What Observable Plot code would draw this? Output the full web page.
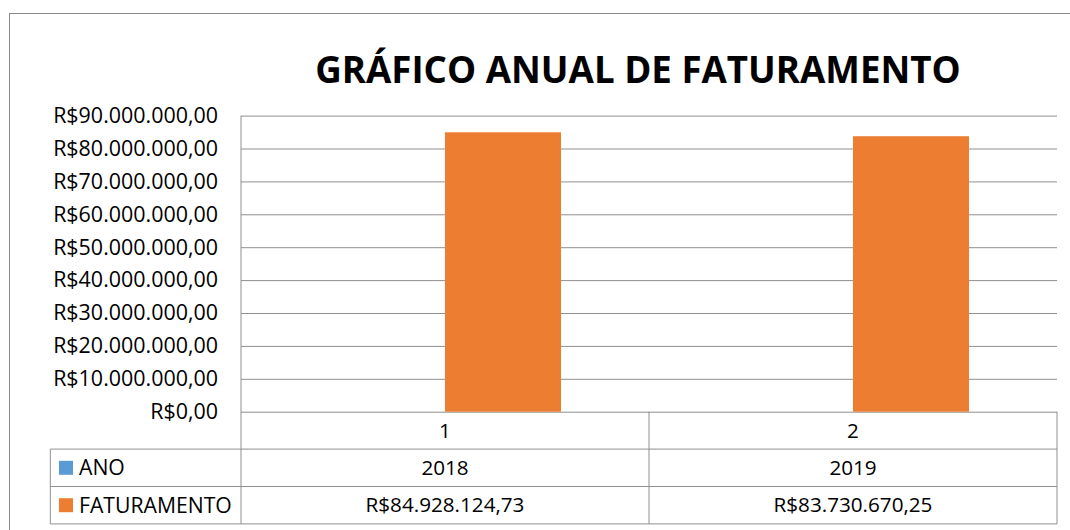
<!DOCTYPE html>
<html><head><meta charset="utf-8">
<script src="https://cdn.jsdelivr.net/npm/d3@7"></script>
<script src="https://cdn.jsdelivr.net/npm/@observablehq/plot@0.6"></script>
<style>
html,body{margin:0;padding:0;background:#fff;}
body{width:1070px;height:530px;overflow:hidden;position:relative;font-family:"Open Sans",sans-serif;}
#frame{position:absolute;left:9px;top:13px;width:1200px;height:700px;border-left:1px solid #8a8a8a;border-top:1px solid #8a8a8a;box-sizing:border-box;}
#chart{position:absolute;left:0;top:0;}
#title{position:absolute;left:238px;width:800px;top:46px;text-align:center;font-family:"Open Sans",sans-serif;font-weight:700;font-size:36.7px;line-height:46px;color:#000;white-space:nowrap;}
</style>
</head><body>
<div id="frame"></div>
<div id="chart"></div>
<div id="title">GRÁFICO ANUAL DE FATURAMENTO</div>
<script>
// ---- data ----
const categories = ["1", "2"];
const years = [2018, 2019];
const revenue = [84928124.73, 83730670.25];
const seriesNames = ["ANO", "FATURAMENTO"];
const seriesColors = ["#5B9BD5", "#ED7D31"];
const yTicks = [0, 10e6, 20e6, 30e6, 40e6, 50e6, 60e6, 70e6, 80e6, 90e6];

const brl = d3.formatLocale({decimal: ",", thousands: ".", grouping: [3], currency: ["R$", ""]}).format("$,.2f");

const bars = [];
categories.forEach((c, i) => {
  bars.push({cat: c, series: "ANO", value: years[i]});
  bars.push({cat: c, series: "FATURAMENTO", value: revenue[i]});
});

const W = 1070, H = 530;
const plot = Plot.plot({
  width: W, height: H,
  marginLeft: 241, marginRight: 12.5, marginTop: 115.6, marginBottom: 118.3,
  fx: {domain: categories, padding: 0, axis: null, label: null},
  x: {domain: seriesNames, paddingInner: 0, paddingOuter: 0.753, axis: null},
  y: {domain: [0, 90e6], label: null},
  color: {domain: seriesNames, range: seriesColors},
  style: {fontFamily: "'Open Sans', sans-serif", color: "#000", background: "transparent", overflow: "visible"},
  marks: [
    Plot.gridY(yTicks, {stroke: "#8f8f8f", strokeOpacity: 1, strokeWidth: 1}),
    Plot.barY(bars, {fx: "cat", x: "series", y: "value", fill: "series"}),
    Plot.axisY(yTicks, {anchor: "left", tickSize: 0, tickPadding: 23.5, tickFormat: brl, fontSize: 19.3, fill: "#000", label: null})
  ]
});
document.getElementById("chart").appendChild(plot);

// fit a group of text nodes so that the widest one spans the given width
function fitTexts(nodes, target, base) {
  const arr = nodes.nodes ? nodes.nodes() : nodes;
  arr.forEach(n => n.style.fontSize = base + "px");
  const w = Math.max(...arr.map(n => n.getComputedTextLength()));
  if (w > 0) {
    const size = base * target / w;
    arr.forEach(n => n.style.fontSize = size + "px");
  }
}

const svg = d3.select(plot);
fitTexts(svg.selectAll("g[aria-label='y-axis tick label'] text"), 165, 19);

// ---- data table under the plot (positions derived from the plot's scales) ----
const fxs = plot.scale("fx");
const ys = plot.scale("y");
const y0 = ys.apply(0);
const yTop = ys.apply(90e6);
const rowH = 37.4;
const left = fxs.apply(categories[0]);
const right = fxs.apply(categories[categories.length - 1]) + fxs.bandwidth;
const legendLeft = 50.3;
const g = svg.append("g").attr("class", "datatable");
const lineColor = "#8f8f8f";
const line = (x1, y1, x2, y2) => g.append("line").attr("x1", x1).attr("y1", y1).attr("x2", x2).attr("y2", y2)
  .attr("stroke", lineColor).attr("stroke-width", 1);

// horizontal lines
line(left, y0 + rowH, right, y0 + rowH);
line(legendLeft, y0 + rowH, left, y0 + rowH);
line(legendLeft, y0 + 2 * rowH, right, y0 + 2 * rowH);
line(legendLeft, y0 + 3 * rowH, right, y0 + 3 * rowH);
// vertical lines
line(left, yTop, left, y0 + 3 * rowH);
categories.forEach(c => line(fxs.apply(c) + fxs.bandwidth, y0, fxs.apply(c) + fxs.bandwidth, y0 + 3 * rowH));
line(legendLeft, y0 + rowH, legendLeft, y0 + 3 * rowH);

const rows = [
  categories,
  years.map(String),
  revenue.map(brl)
];
const cellTexts = [];
rows.forEach((vals, r) => {
  vals.forEach((t, i) => {
    cellTexts.push(g.append("text")
      .attr("x", fxs.apply(categories[i]) + fxs.bandwidth / 2)
      .attr("y", y0 + rowH * r + rowH / 2)
      .attr("dy", "0.35em")
      .attr("text-anchor", "middle")
      .attr("fill", "#000")
      .text(t).node());
  });
});
fitTexts(cellTexts, 159, 18.6);

const legendTexts = [];
seriesNames.forEach((s, i) => {
  const cy = y0 + rowH * (i + 1) + rowH / 2;
  g.append("rect").attr("x", legendLeft + 8.7).attr("y", cy - 7).attr("width", 14).attr("height", 14)
    .attr("fill", seriesColors[i]);
  legendTexts.push(g.append("text").attr("x", legendLeft + 28.7).attr("y", cy).attr("dy", "0.35em")
    .attr("text-anchor", "start")
    .attr("fill", "#000").text(s).node());
});
fitTexts(legendTexts, 153, 20);
</script>
</body></html>
